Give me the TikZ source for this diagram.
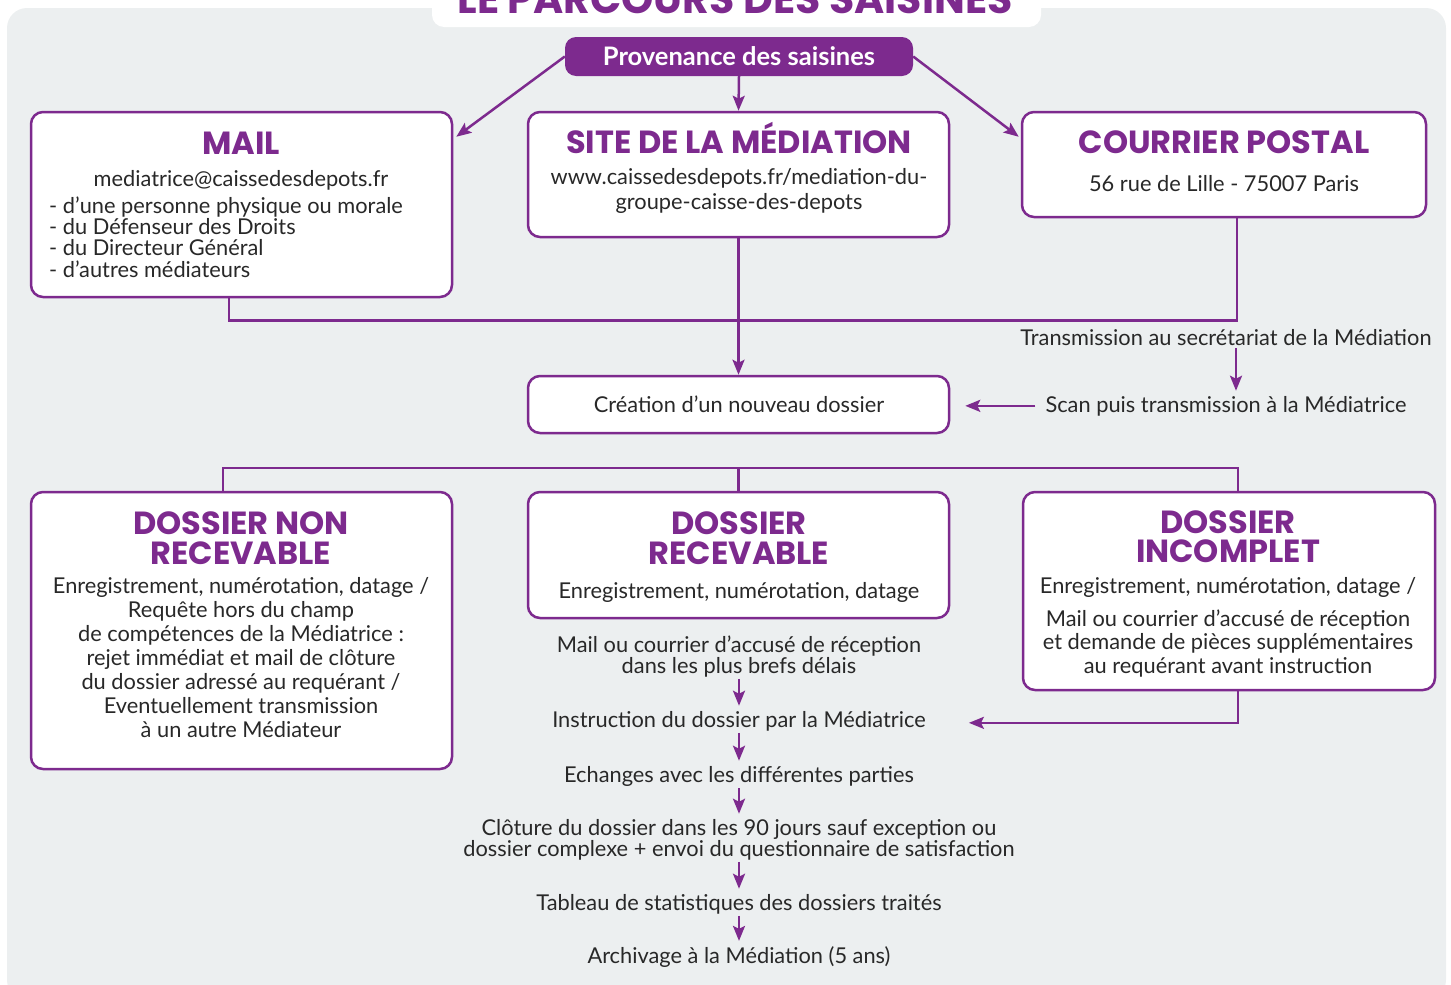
\documentclass[tikz,border=0pt]{standalone}
\usepackage{fontspec}
\setmainfont{Lato}
\newfontfamily\hfont{Poppins}
\usetikzlibrary{arrows.meta,calc}
\definecolor{purp}{RGB}{125,42,142}
\definecolor{bgc}{RGB}{236,239,240}
\definecolor{txt}{RGB}{40,40,40}
\begin{document}
\begin{tikzpicture}[x=1pt,y=-1pt,
 box/.style={draw=purp,line width=2.5pt,fill=white,rounded corners=12pt,inner sep=0pt},
 ttl/.style={font=\hfont\bfseries\fontsize{32}{30}\selectfont,text=purp,anchor=base,inner sep=0pt,align=center},
 bt/.style={font=\fontsize{21.8}{24}\selectfont,text=txt,anchor=base,inner sep=0pt,align=center},
 con/.style={draw=purp,line width=2.5pt},
 arr/.style={con,-{Stealth[length=15pt,width=12pt,inset=3pt]}}]
\useasboundingbox (0,0) rectangle (1451,985);
\fill[bgc,rounded corners=20pt] (7,8) rectangle (1446,1000);
\fill[white,rounded corners=12pt] (432,-30) rectangle (1041,27);
\node[font=\hfont\bfseries\fontsize{41}{41}\selectfont,text=purp,anchor=base,inner sep=0pt] (title) at (735,13) {LE PARCOURS DES SAISINES};
% provenance
\node[fill=purp,rounded corners=11pt,minimum width=348pt,minimum height=39pt,inner sep=0pt] (prov) at (739,56.5) {};
\node[font=\bfseries\fontsize{25.5}{25}\selectfont,text=white,anchor=base,inner sep=0pt] (provt) at (739,65) {Provenance des saisines};
% top boxes
\node[box,minimum width=421pt,minimum height=185pt] (mail) at (241.5,204.5) {};
\node[box,minimum width=421pt,minimum height=125pt] (site) at (738.5,174.5) {};
\node[box,minimum width=404pt,minimum height=105pt] (cour) at (1224,164.5) {};
\node[ttl] (mailt) at (241,154) {MAIL};
\node[bt] (maile) at (241,186) {mediatrice@caissedesdepots.fr};
\node[bt,anchor=base west,align=left,font=\fontsize{21.8}{21.3}\selectfont] (maill) at (49,277) {- d’une personne physique ou morale\\- du Défenseur des Droits\\- du Directeur Général\\- d’autres médiateurs};
\node[ttl] (sitet) at (739,153) {SITE DE LA MÉDIATION};
\node[bt,font=\fontsize{21.8}{25}\selectfont] (siteu) at (739,209) {www.caissedesdepots.fr/mediation-du-\\groupe-caisse-des-depots};
\node[ttl] (court) at (1224,153) {COURRIER POSTAL};
\node[bt] (coura) at (1224,191) {56 rue de Lille - 75007 Paris};
% arrows from provenance
\draw[arr] (prov.west) -- ([shift={(3pt,-26pt)}]mail.north east);
\draw[arr] (prov.south) -- (site.north);
\draw[arr] (prov.east) -- ([shift={(-2pt,-26pt)}]cour.north west);
% merge
\draw[con] ([xshift=-12.5pt]mail.south) -- ++(0,22) -| ([xshift=13pt]cour.south);
\node[box,minimum width=421pt,minimum height=57pt] (crea) at (738.5,404.5) {};
\node[bt] (creat) at (739,412) {Création d’un nouveau dossier};
\draw[arr] (site.south) -- (crea.north);
\node[bt] (trans) at (1226,345) {Transmission au secrétariat de la Médiation};
\node[bt] (scan) at (1226,412) {Scan puis transmission à la Médiatrice};
\draw[arr,shorten <=3pt,shorten >=5pt] ([xshift=10pt]trans.south) -- ([xshift=10pt]trans.south |- scan.north);
\draw[arr,shorten <=10pt,shorten >=15pt] (scan.west) -- (scan.west -| crea.east);
% bottom boxes
\node[box,minimum width=421pt,minimum height=277pt] (nonr) at (241.5,630.5) {};
\node[box,minimum width=421pt,minimum height=126pt] (rec) at (738.5,555) {};
\node[box,minimum width=412pt,minimum height=198pt] (inc) at (1229,591) {};
\draw[con] ([xshift=-18.5pt]nonr.north) -- ++(0,-23) -| ([xshift=9pt]inc.north);
\draw[con] (rec.north) -- ++(0,-23);
\node[ttl] (nonrt) at (241,564) {DOSSIER NON\\RECEVABLE};
\node[bt] (nonrb) at (241,737) {Enregistrement, numérotation, datage /\\Requête hors du champ\\de compétences de la Médiatrice :\\rejet immédiat et mail de clôture\\du dossier adressé au requérant /\\Eventuellement transmission\\à un autre Médiateur};
\node[ttl] (rect) at (739,564) {DOSSIER\\RECEVABLE};
\node[bt] (recb) at (739,598) {Enregistrement, numérotation, datage};
\node[ttl,font=\hfont\bfseries\fontsize{32}{29}\selectfont] (inct) at (1228,562) {DOSSIER\\INCOMPLET};
\node[bt] (incb) at (1228,593) {Enregistrement, numérotation, datage /};
\node[bt,font=\fontsize{21.8}{23.5}\selectfont] (incc) at (1228,673) {Mail ou courrier d’accusé de réception\\et demande de pièces supplémentaires\\au requérant avant instruction};
% chain
\node[bt,font=\fontsize{21.8}{21}\selectfont] (c1) at (739,673) {Mail ou courrier d’accusé de réception\\dans les plus brefs délais};
\node[bt] (c2) at (739,727) {Instruction du dossier par la Médiatrice};
\node[bt] (c3) at (739,782) {Echanges avec les différentes parties};
\node[bt,font=\fontsize{21.8}{21}\selectfont] (c4) at (739,856) {Clôture du dossier dans les 90 jours sauf exception ou\\dossier complexe + envoi du questionnaire de satisfaction};
\node[bt] (c5) at (739,910) {Tableau de statistiques des dossiers traités};
\node[bt] (c6) at (739,963) {Archivage à la Médiation (5 ans)};
\foreach \a/\b in {c1/c2,c2/c3,c3/c4,c4/c5,c5/c6}
  \draw[arr,shorten <=2pt,shorten >=5pt] (\a.south) -- (\b.north);
\draw[arr] ([xshift=9pt]inc.south) |- ([xshift=43pt,yshift=-2pt]c2.east);
\end{tikzpicture}
\end{document}
